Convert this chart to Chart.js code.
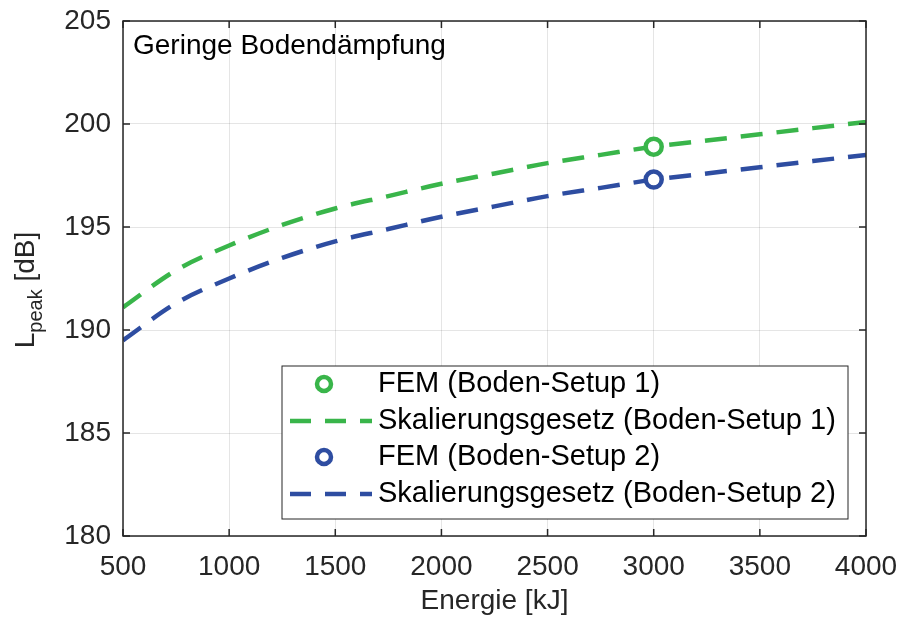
<!DOCTYPE html>
<html>
<head>
<meta charset="utf-8">
<script src="https://cdn.jsdelivr.net/npm/chart.js@4.4.1/dist/chart.umd.min.js"></script>
<style>
html,body{margin:0;padding:0;background:#fff}
</style>
</head>
<body>
<canvas id="lpeak" width="904" height="619"></canvas>
<script>
// Werte
const energy = [500, 750, 1000, 1250, 1500, 1750, 2000, 2250, 2500, 2750, 3000, 3250, 3500, 3750, 4000];
const setup1 = [191.1, 192.9, 194.1, 195.1, 195.9, 196.5, 197.1, 197.6, 198.1, 198.5, 198.9, 199.2, 199.5, 199.8, 200.1];
const setup2 = [189.5, 191.3, 192.5, 193.5, 194.3, 194.9, 195.5, 196.0, 196.5, 196.9, 197.3, 197.6, 197.9, 198.2, 198.5];
const femEnergy = [3000];
const fem1 = [198.9];
const fem2 = [197.3];
const xTicks = [500, 1000, 1500, 2000, 2500, 3000, 3500, 4000];
const yTicks = [180, 185, 190, 195, 200, 205];

const legendLabels = ['FEM (Boden-Setup 1)', 'Skalierungsgesetz (Boden-Setup 1)', 'FEM (Boden-Setup 2)', 'Skalierungsgesetz (Boden-Setup 2)'];

const GREEN = 'rgb(57,181,74)';
const BLUE = 'rgb(46,77,161)';
const FONT = '"Liberation Sans", Arial, sans-serif';
const AXIS = '#262626';
const FS = 28;

const pts = (xs, ys) => xs.map((x, i) => ({x: x, y: ys[i]}));

const frame = {
  id: 'frame',
  afterDraw(chart) {
    const {ctx, chartArea: a, scales: {x, y}} = chart;
    ctx.save();
    // Rahmen + Ticks innen
    ctx.strokeStyle = AXIS;
    ctx.lineWidth = 1.5;
    ctx.strokeRect(a.left, a.top, a.right - a.left, a.bottom - a.top);
    ctx.beginPath();
    xTicks.forEach(v => {
      const px = x.getPixelForValue(v);
      ctx.moveTo(px, a.bottom); ctx.lineTo(px, a.bottom - 7);
      ctx.moveTo(px, a.top); ctx.lineTo(px, a.top + 7);
    });
    yTicks.forEach(v => {
      const py = y.getPixelForValue(v);
      ctx.moveTo(a.left, py); ctx.lineTo(a.left + 7, py);
      ctx.moveTo(a.right, py); ctx.lineTo(a.right - 7, py);
    });
    ctx.stroke();

    // Titel im Diagramm
    ctx.fillStyle = '#000';
    ctx.font = FS + 'px ' + FONT;
    ctx.textAlign = 'left';
    ctx.textBaseline = 'alphabetic';
    ctx.fillText('Geringe Bodendämpfung', 133, 54);

    // y-Achsentitel mit Index
    ctx.save();
    ctx.fillStyle = AXIS;
    ctx.translate(34, 290);
    ctx.rotate(-Math.PI / 2);
    ctx.font = FS + 'px ' + FONT;
    const wL = ctx.measureText('L').width;
    const wU = ctx.measureText(' [dB]').width;
    ctx.font = '20px ' + FONT;
    const wP = ctx.measureText('peak').width;
    let u = -(wL + wP + wU) / 2;
    ctx.font = FS + 'px ' + FONT;
    ctx.fillText('L', u, 0); u += wL;
    ctx.font = '20px ' + FONT;
    ctx.fillText('peak', u, 8); u += wP;
    ctx.font = FS + 'px ' + FONT;
    ctx.fillText(' [dB]', u, 0);
    ctx.restore();

    // Legende
    const lx = 282, ly = 366, lw = 566, lh = 153;
    ctx.fillStyle = '#fff';
    ctx.fillRect(lx, ly, lw, lh);
    ctx.strokeStyle = AXIS;
    ctx.lineWidth = 1;
    ctx.strokeRect(lx, ly, lw, lh);
    const rows = [384, 421, 457, 494];
    const cols = [GREEN, GREEN, BLUE, BLUE];
    rows.forEach((ry, i) => {
      ctx.strokeStyle = cols[i];
      ctx.lineWidth = 4.5;
      if (i % 2 === 0) {
        ctx.setLineDash([]);
        ctx.beginPath();
        ctx.arc(324, ry, 7, 0, Math.PI * 2);
        ctx.fillStyle = '#fff';
        ctx.fill();
        ctx.stroke();
      } else {
        ctx.setLineDash([21, 14]);
        ctx.beginPath();
        ctx.moveTo(290, ry); ctx.lineTo(372, ry);
        ctx.stroke();
        ctx.setLineDash([]);
      }
      ctx.fillStyle = '#000';
      ctx.font = '29px ' + FONT;
      ctx.textBaseline = 'middle';
      ctx.fillText(legendLabels[i], 378, ry);
    });
    ctx.restore();
  }
};

new Chart(document.getElementById('lpeak'), {
  type: 'line',
  data: {
    datasets: [
      {label: legendLabels[0], data: pts(femEnergy, fem1), showLine: false, pointStyle: 'circle',
       pointRadius: 8, pointBorderWidth: 4.5, borderColor: GREEN, pointBackgroundColor: '#fff'},
      {label: legendLabels[2], data: pts(femEnergy, fem2), showLine: false, pointStyle: 'circle',
       pointRadius: 8, pointBorderWidth: 4.5, borderColor: BLUE, pointBackgroundColor: '#fff'},
      {label: legendLabels[1], data: pts(energy, setup1), borderColor: GREEN, borderWidth: 4.5,
       borderDash: [22, 14], pointRadius: 0, cubicInterpolationMode: 'monotone', fill: false},
      {label: legendLabels[3], data: pts(energy, setup2), borderColor: BLUE, borderWidth: 4.5,
       borderDash: [22, 14], pointRadius: 0, cubicInterpolationMode: 'monotone', fill: false}
    ]
  },
  options: {
    responsive: false,
    animation: false,
    layout: {padding: {left: 0, top: 21, right: 38, bottom: 0}},
    plugins: {legend: {display: false}, tooltip: {enabled: false}},
    scales: {
      x: {
        type: 'linear', min: 500, max: 4000,
        afterBuildTicks: s => { s.ticks = xTicks.map(v => ({value: v})); },
        afterFit: s => { s.height = 83; s.paddingLeft = 0; s.paddingRight = 0; },
        ticks: {color: AXIS, font: {family: FONT, size: FS}, padding: 14, maxRotation: 0,
                callback: v => String(v)},
        grid: {color: 'rgba(0,0,0,0.1)', drawTicks: false},
        border: {display: false},
        title: {display: true, text: 'Energie [kJ]', color: AXIS, font: {family: FONT, size: FS},
                padding: {top: 0, bottom: 1}}
      },
      y: {
        type: 'linear', min: 180, max: 205,
        afterBuildTicks: s => { s.ticks = yTicks.map(v => ({value: v})); },
        afterFit: s => { s.width = 123; s.paddingTop = 0; s.paddingBottom = 0; },
        ticks: {color: AXIS, font: {family: FONT, size: FS}, padding: 12, callback: v => String(v)},
        grid: {color: 'rgba(0,0,0,0.1)', drawTicks: false},
        border: {display: false}
      }
    }
  },
  plugins: [frame]
});
</script>
</body>
</html>
